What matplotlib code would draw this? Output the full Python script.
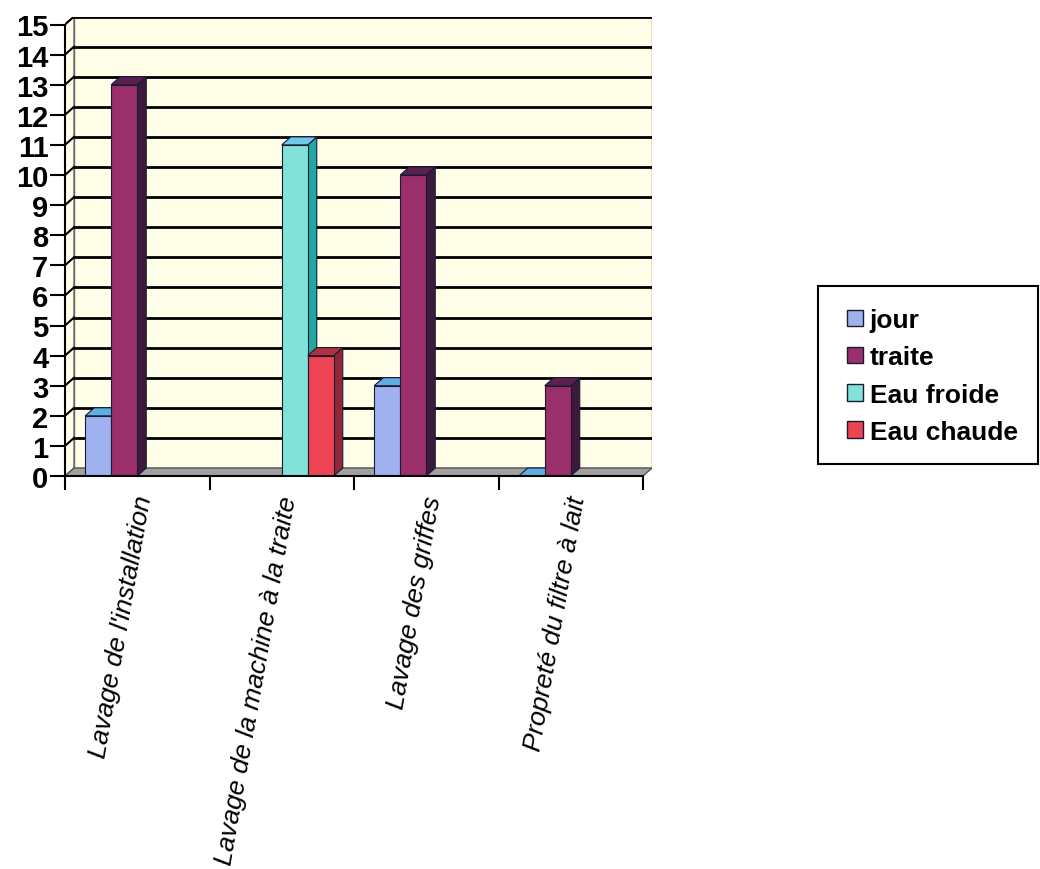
import numpy as np
import matplotlib
matplotlib.use("Agg")
import matplotlib.pyplot as plt
from matplotlib.patches import Polygon, Rectangle, Patch

plt.rcParams['font.family'] = ['Liberation Sans', 'DejaVu Sans']

# data (nan = no bar drawn)
categories = ["Lavage de l'installation", "Lavage de la machine à la traite",
              "Lavage des griffes", "Propreté du filtre à lait"]
series = ["jour", "traite", "Eau froide", "Eau chaude"]
jour = [2, np.nan, 3, 0]
traite = [13, np.nan, 10, 3]
eau_froide = [np.nan, 11, np.nan, np.nan]
eau_chaude = [np.nan, 4, np.nan, np.nan]
values = [jour, traite, eau_froide, eau_chaude]

# front, side, top colours for each series
colors = [('#9fb2ef', '#6f86cc', '#5eaee4'),
          ('#9a2f6c', '#3d1a3b', '#5c2050'),
          ('#80e2d8', '#22a8a0', '#72c8ec'),
          ('#ec4452', '#8e2838', '#b03040')]
wall = '#fffee8'

# pixel geometry of the reference
ux, uy = 144.5, 30.1          # px per category / per unit
dx, dy = 9 / ux, 8 / uy       # depth offset in data units
ymax = 15
ncat = len(categories)

fig = plt.figure(figsize=(10.4, 8.7), dpi=100)
W, H = 1040, 870
ax = fig.add_axes([65 / W, 1 - 477 / H, (ncat + dx) * ux / W, (ymax + dy) * uy / H])
ax.set_xlim(0, ncat + dx)
ax.set_ylim(0, ymax + dy)
for s in ax.spines.values():
    s.set_visible(False)
ax.set_facecolor('none')

# walls and floor
ax.add_patch(Rectangle((dx, dy), ncat, ymax, fc=wall, ec='#666666', lw=1, zorder=0.5))
ax.add_patch(Polygon([(0, 0), (dx, dy), (dx, ymax + dy), (0, ymax)], closed=True,
                     fc=wall, ec='#666666', lw=1, zorder=0.5))
for k in range(1, ymax + 1):
    ax.plot([dx, ncat + dx], [k + dy, k + dy], color='black', lw=2, zorder=1)
    ax.plot([0, dx], [k, k + dy], color='black', lw=1.5, zorder=1)
ax.add_patch(Polygon([(0, 0), (ncat, 0), (ncat + dx, dy), (dx, dy)], closed=True,
                     fc='#a0a0a0', ec='#555555', lw=1, zorder=2))

# 3d columns
w = 0.18
start = 0.14
z = 3
for i in range(ncat):
    for j, vals in enumerate(values):
        v = vals[i]
        if np.isnan(v):
            continue
        x0 = i + start + j * w
        front, side, top = colors[j]
        ax.add_patch(Polygon([(x0 + w, 0), (x0 + w + dx, dy), (x0 + w + dx, v + dy), (x0 + w, v)],
                             closed=True, fc=side, ec='#1a1a33', lw=0.8, zorder=z))
        ax.add_patch(Polygon([(x0, v), (x0 + w, v), (x0 + w + dx, v + dy), (x0 + dx, v + dy)],
                             closed=True, fc=top, ec='#1a1a33', lw=0.8, zorder=z + 0.01))
        ax.bar(x0, v, width=w, align='edge', color=front, edgecolor='#1a1a33', lw=0.8, zorder=z + 0.02)
        z += 0.1

# front axis lines
ax.plot([0, 0], [0, ymax], color='black', lw=1.5, clip_on=False, zorder=10)
ax.plot([0, ncat], [0, 0], color='black', lw=1.5, clip_on=False, zorder=10)

ax.set_yticks(range(ymax + 1))
ax.set_yticklabels([str(k) for k in range(ymax + 1)], fontsize=21, fontweight='bold')
ax.tick_params(axis='y', direction='out', length=11, width=1.5, pad=1)

ax.set_xticks(range(ncat + 1))
ax.set_xticklabels([])
ax.tick_params(axis='x', which='major', direction='out', length=10, width=1.5)
ax.set_xticks([i + 0.55 for i in range(ncat)], minor=True)
ax.set_xticklabels(categories, minor=True, rotation=80, ha='right', va='center',
                   rotation_mode='anchor', fontsize=19, fontstyle='italic')
ax.tick_params(axis='x', which='minor', length=0, pad=14)

# legend with a plain box around it
fig.patches.append(Rectangle((818 / W, 1 - 465 / H), 220 / W, 178 / H, transform=fig.transFigure,
                             fc='white', ec='black', lw=1.5, zorder=0))
handles = [Patch(fc=c[0], ec='#1a1a33', lw=1) for c in colors]
fig.legend(handles, series, loc='center left', bbox_to_anchor=(834 / W, 1 - 377 / H),
           frameon=False, prop={'size': 19, 'weight': 'bold'}, handlelength=0.6,
           handleheight=0.6, handletextpad=0.25, labelspacing=0.5, borderpad=0)

fig.savefig('out.png', dpi=100)
